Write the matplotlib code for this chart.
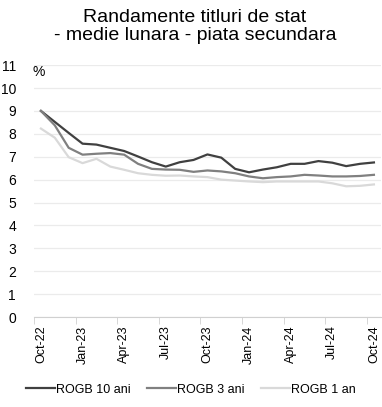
import numpy as np
import matplotlib.pyplot as plt

plt.rcParams['font.family'] = ['Liberation Sans', 'DejaVu Sans']

months = ["Oct-22", "Nov-22", "Dec-22", "Jan-23", "Feb-23", "Mar-23", "Apr-23", "May-23",
          "Jun-23", "Jul-23", "Aug-23", "Sep-23", "Oct-23", "Nov-23", "Dec-23", "Jan-24",
          "Feb-24", "Mar-24", "Apr-24", "May-24", "Jun-24", "Jul-24", "Aug-24", "Sep-24",
          "Oct-24"]
rogb_10 = [9.00, 8.52, 8.04, 7.57, 7.53, 7.39, 7.25, 7.01, 6.76, 6.57, 6.76, 6.86, 7.10,
           6.96, 6.47, 6.32, 6.44, 6.54, 6.69, 6.69, 6.81, 6.74, 6.59, 6.69, 6.75]
rogb_3 = [9.00, 8.37, 7.39, 7.09, 7.13, 7.16, 7.09, 6.69, 6.47, 6.44, 6.43, 6.34, 6.40,
          6.36, 6.28, 6.14, 6.06, 6.11, 6.14, 6.21, 6.18, 6.14, 6.14, 6.16, 6.21]
rogb_1 = [8.23, 7.83, 6.98, 6.72, 6.91, 6.57, 6.43, 6.28, 6.21, 6.17, 6.18, 6.14, 6.11,
          6.00, 5.96, 5.92, 5.89, 5.92, 5.92, 5.92, 5.92, 5.84, 5.71, 5.73, 5.79]

series = [("ROGB 10 ani", rogb_10, "#404040"),
          ("ROGB 3 ani", rogb_3, "#808080"),
          ("ROGB 1 an", rogb_1, "#d9d9d9")]

fig = plt.figure(figsize=(3.82, 4.07), dpi=100)
ax = fig.add_axes([0.089, 0.221, 0.908, 0.619])

x = np.arange(len(months))
for name, vals, color in series:
    ax.plot(x, vals, color=color, lw=1.6, label=name)

ax.set_ylim(0, 11)
ax.set_yticks(range(0, 12))
ax.set_xlim(-0.5, len(months) - 0.5)
ax.set_xticks(x[::3])
ax.set_xticklabels(months[::3], rotation=90)
ax.set_xticks(x[::3] - 0.5, minor=True)
ax.tick_params(axis='x', which='major', length=0, pad=6, labelsize=9)
ax.tick_params(axis='x', which='minor', length=5, color="#d0d0d0", direction='out')
ax.tick_params(axis='y', length=0, labelsize=10, pad=13)
ax.grid(axis='y', color="#ebebeb", lw=0.9)
ax.set_axisbelow(True)
for s in ["left", "right", "top"]:
    ax.spines[s].set_visible(False)
ax.spines["bottom"].set_color("#d0d0d0")

ax.text(-0.005, 1.0, "%", transform=ax.transAxes, fontsize=10, va='top', ha='left')

fig.suptitle("Randamente titluri de stat\n- medie lunara - piata secundara",
             x=0.51, y=0.978, fontsize=14, linespacing=1.1)

fig.legend(loc='lower center', bbox_to_anchor=(0.5, 0.0), ncol=3, frameon=False,
           fontsize=9, handlelength=2.3, handletextpad=0.1, columnspacing=1.3)

fig.savefig("out.png", dpi=100)
